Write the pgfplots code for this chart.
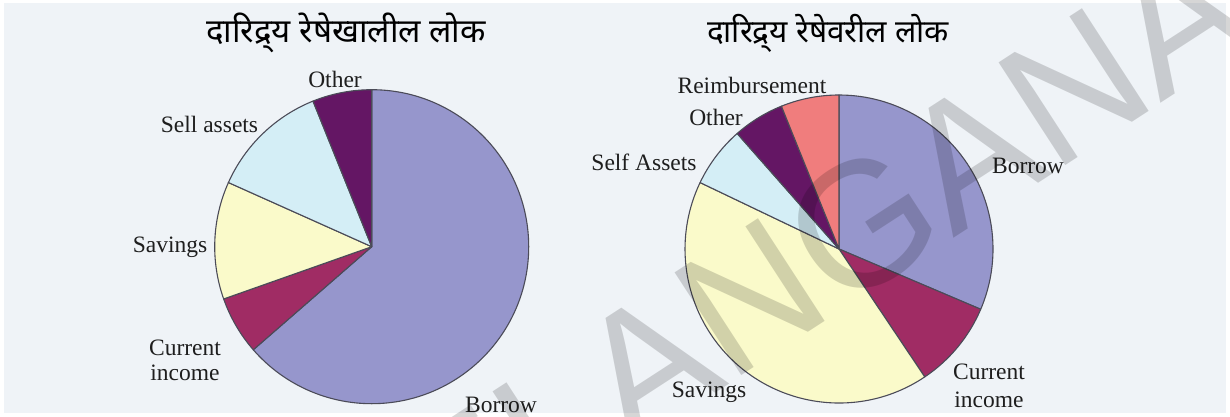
\documentclass[border=0pt]{standalone}
\usepackage{pgfplots}
\pgfplotsset{compat=1.18}
\usepackage{pgfplotstable}
\usepackage{fontspec}
\setmainfont{Liberation Serif}
\setsansfont{Liberation Sans}
\newfontfamily\deva[Script=Devanagari]{Noto Sans}

\definecolor{bgc}{RGB}{239,243,247}
\definecolor{pieedge}{RGB}{75,75,88}
\definecolor{cborrow}{RGB}{150,150,204}
\definecolor{ccurrent}{RGB}{160,44,100}
\definecolor{csavings}{RGB}{250,250,202}
\definecolor{csell}{RGB}{212,238,246}
\definecolor{cother}{RGB}{100,22,100}
\definecolor{creimb}{RGB}{240,125,125}

% shares in percent, clockwise from 12 o'clock
% below poverty line: Borrow, Current income, Savings, Sell assets, Other
\pgfplotstableread{
share
63.6
6.0
12.1
12.2
6.1
}\belowtable
% above poverty line: Borrow, Current income, Savings, Self Assets, Other, Reimbursement
\pgfplotstableread{
share
31.4
9.2
41.5
6.4
5.4
6.1
}\abovetable

\newcommand\computeslices[2]{%
  \pgfplotstablegetrowsof{#1}%
  \pgfmathtruncatemacro\lastrow{\pgfplotsretval-1}%
  \xdef\acc{90}%
  \pgfplotsforeachungrouped \i in {0,...,\lastrow}{%
    \pgfplotstablegetelem{\i}{share}\of{#1}%
    \pgfmathsetmacro\nxt{\acc-3.6*\pgfplotsretval}%
    \expandafter\xdef\csname #2start\i\endcsname{\acc}%
    \expandafter\xdef\csname #2end\i\endcsname{\nxt}%
    \xdef\acc{\nxt}%
  }%
}
\computeslices{\belowtable}{B}
\computeslices{\abovetable}{A}

\newcommand\pieslicedraw[4]{% start, end, colour, radius
  \fill[#3, draw=pieedge, line width=1.1pt, line join=round]
    (axis cs:0,0) -- (axis cs:{#4*cos(#1)},{#4*sin(#1)})
    arc[start angle=#1, end angle=#2, radius=#4pt] -- cycle;
}
\newcommand\pieslice[4]{% prefix, index, colour, radius
  \edef\tmpslice{\noexpand\pieslicedraw{\csname #1start#2\endcsname}{\csname #1end#2\endcsname}}%
  \tmpslice{#3}{#4}%
}

\pgfplotsset{pieaxis/.style={hide axis, x=1pt, y=1pt, xmin=-165, xmax=165,
  ymin=-165, ymax=165, clip=false, anchor=center}}

\begin{document}
\begin{tikzpicture}[x=1pt,y=1pt]
\fill[white] (0,0) rectangle (1230,416);
\fill[bgc] (4,3) rectangle (1226,413);

% left pie: below poverty line
\begin{axis}[pieaxis, at={(371.7pt,169.3pt)}]
  \pieslice{B}{0}{cborrow}{157}
  \pieslice{B}{1}{ccurrent}{157}
  \pieslice{B}{2}{csavings}{157}
  \pieslice{B}{3}{csell}{157}
  \pieslice{B}{4}{cother}{157}
\end{axis}

% right pie: above poverty line
\begin{axis}[pieaxis, at={(839pt,167pt)}]
  \pieslice{A}{0}{cborrow}{154}
  \pieslice{A}{1}{ccurrent}{154}
  \pieslice{A}{2}{csavings}{154}
  \pieslice{A}{3}{csell}{154}
  \pieslice{A}{4}{cother}{154}
  \pieslice{A}{5}{creimb}{154}
\end{axis}

\tikzset{lbl/.style={anchor=base, inner sep=0pt, font=\fontsize{23.5}{26}\selectfont, text={rgb,255:red,30;green,30;blue,30}}}
% titles
\node[anchor=base, inner sep=0pt, font=\deva\fontsize{33}{36}\selectfont] at (346,373) {दारिद्र्य रेषेखालील लोक};
\node[anchor=base, inner sep=0pt, font=\deva\fontsize{31.5}{36}\selectfont] at (828,373) {दारिद्र्य रेषेवरील लोक};

% left labels
\node[lbl] at (335,329) {Other};
\node[lbl] at (209.5,284) {Sell assets};
\node[lbl] at (170,164) {Savings};
\node[lbl] at (185,61) {Current};
\node[lbl] at (185,36) {income};
\node[lbl] at (501,4) {Borrow};

% right labels
\node[lbl] at (752,323) {Reimbursement};
\node[lbl] at (716,291) {Other};
\node[lbl] at (644,246) {Self Assets};
\node[lbl] at (1028,243) {Borrow};
\node[lbl] at (709,19) {Savings};
\node[lbl] at (989,37) {Current};
\node[lbl] at (989,9) {income};

% watermark
\node[rotate=33, inner sep=0pt, opacity=0.16, text=black,
  font=\sffamily\fontsize{178}{178}\selectfont] at (775,135) {TELANGANA};

\pgfresetboundingbox
\useasboundingbox (0,0) rectangle (1230,416);
\end{tikzpicture}
\end{document}
